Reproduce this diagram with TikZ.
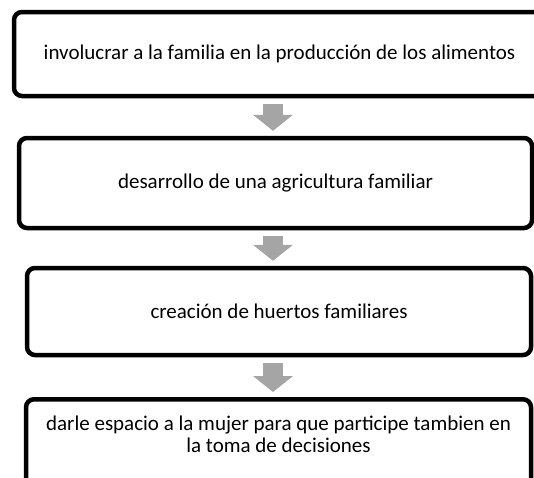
\documentclass[tikz,border=0pt]{standalone}
\usepackage{fontspec}
\setmainfont{Carlito}
\usepackage{tikz}
\usetikzlibrary{arrows.meta, positioning}
\definecolor{arrowgray}{HTML}{A5A5A5}

\begin{document}
\begin{tikzpicture}[
    x=1pt, y=1pt,
    every node/.style={font=\fontsize{21}{22}\selectfont},
    box/.style={draw, line width=4.5pt, rounded corners=8pt, align=center,
                inner sep=0pt},
    blockarrow/.style={draw=arrowgray, line width=20pt,
                       -{Triangle[width=40pt, length=16pt, line width=0pt]},
                       shorten <=6pt, shorten >=5pt}
  ]
  \useasboundingbox (0,0) rectangle (534,-477);
  \node[box, minimum width=531pt, minimum height=84pt] (invol) at (279.5,-54)
    {involucrar a la familia en la producción de los alimentos};
  \node[box, minimum width=513pt, minimum height=90pt] (agri) at (275.5,-183)
    {desarrollo de una agricultura familiar};
  \node[box, minimum width=504pt, minimum height=87pt] (huer) at (279,-311.5)
    {creación de huertos familiares};
  \node[box, minimum width=505pt, text height=53pt, text depth=68pt,
        anchor=north] (mujer) at (278.5,-397)
    {darle espacio a la mujer para que participe tambien en\\
     la toma de decisiones};
  \coordinate (axis) at (273,0);
  \draw[blockarrow] (invol.south -| axis) -- (agri.north -| axis);
  \draw[blockarrow] (agri.south -| axis) -- (huer.north -| axis);
  \draw[blockarrow] (huer.south -| axis) -- (mujer.north -| axis);
\end{tikzpicture}
\end{document}
